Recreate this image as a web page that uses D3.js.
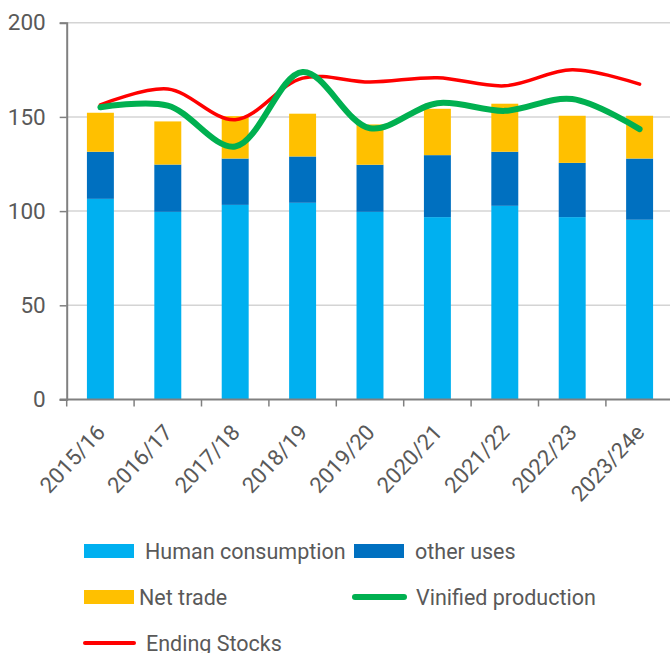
<!DOCTYPE html>
<html>
<head>
<meta charset="UTF-8">
<title>Wine balance</title>
<script src="https://cdn.jsdelivr.net/npm/d3@7"></script>
<style>
  body { margin: 0; background: #fff; }
  text { font-family: Roboto, "Open Sans", sans-serif; fill: #595959; }
</style>
</head>
<body>
<script>
// values
var years = ["2015/16", "2016/17", "2017/18", "2018/19", "2019/20", "2020/21", "2021/22", "2022/23", "2023/24e"];
var humanConsumption = [106.5, 99.6, 103.3, 104.4, 99.6, 96.8, 102.8, 96.8, 95.4];
var otherUses = [25.0, 25.1, 24.6, 24.6, 25.0, 32.9, 28.7, 28.8, 32.5];
var netTrade = [20.7, 22.9, 22.5, 22.7, 21.4, 24.6, 25.5, 25.0, 22.7];
var vinifiedProduction = [155.1, 156.0, 134.3, 173.8, 144.0, 157.3, 153.2, 159.5, 143.5];
var endingStocks = [156.4, 164.8, 148.5, 170.6, 168.5, 170.8, 166.5, 175.0, 167.4];
var yTicks = [0, 50, 100, 150, 200];

var width = 670, height = 653;
// note: "top" is reserved on window, so use plot* names
var plotLeft = 66.7, plotRight = 673.3, plotTop = 22.7, plotBottom = 399.5;

var svg = d3.select("body").append("svg")
    .attr("width", width)
    .attr("height", height);

var x = d3.scaleBand().domain(years).range([plotLeft, plotRight]).paddingInner(0.6).paddingOuter(0.3);
var y = d3.scaleLinear().domain([0, 200]).range([plotBottom, plotTop]);

// gridlines
svg.append("g").selectAll("line").data(yTicks.filter(function(d) { return d > 0; }))
    .enter().append("line")
    .attr("x1", plotLeft).attr("x2", width)
    .attr("y1", function(d) { return y(d); }).attr("y2", function(d) { return y(d); })
    .attr("stroke", "#d4d4d4").attr("stroke-width", 1.5);

// stacked bars
var rows = years.map(function(yr, i) {
    return { year: yr, human: humanConsumption[i], other: otherUses[i], net: netTrade[i] };
});
var keys = ["human", "other", "net"];
var colors = { human: "#00B0F0", other: "#0070C0", net: "#FFC000" };
var stacked = d3.stack().keys(keys)(rows);

svg.append("g").selectAll("g").data(stacked)
    .enter().append("g")
    .attr("fill", function(d) { return colors[d.key]; })
    .selectAll("rect").data(function(d) { return d; })
    .enter().append("rect")
    .attr("x", function(d) { return x(d.data.year); })
    .attr("width", x.bandwidth())
    .attr("y", function(d) { return y(d[1]); })
    .attr("height", function(d) { return y(d[0]) - y(d[1]); });

// axes
var yAxis = svg.append("g")
    .attr("transform", "translate(" + plotLeft + ",0)")
    .call(d3.axisLeft(y).tickValues(yTicks).tickSize(7).tickPadding(14));
yAxis.select(".domain").attr("stroke", "#808080").attr("stroke-width", 2);
yAxis.selectAll(".tick line").attr("stroke", "#808080").attr("stroke-width", 1.5);
yAxis.selectAll(".tick text")
    .style("font-size", "22.5px")
    .attr("fill", "#595959")
    .style("font-family", "Roboto, sans-serif");

var xAxisG = svg.append("g");
xAxisG.append("line")
    .attr("x1", plotLeft - 7).attr("x2", width)
    .attr("y1", plotBottom).attr("y2", plotBottom)
    .attr("stroke", "#808080").attr("stroke-width", 2);
var step = x.step();
xAxisG.selectAll(".xtick").data(d3.range(years.length + 1))
    .enter().append("line")
    .attr("x1", function(i) { return plotLeft + i * step; })
    .attr("x2", function(i) { return plotLeft + i * step; })
    .attr("y1", plotBottom).attr("y2", plotBottom + 7)
    .attr("stroke", "#808080").attr("stroke-width", 1.5);
xAxisG.selectAll(".xlabel").data(years)
    .enter().append("text")
    .attr("text-anchor", "end")
    .attr("transform", function(d) {
        return "translate(" + (x(d) + x.bandwidth() / 2 + 6) + "," + (plotBottom + 34) + ") rotate(-47)";
    })
    .style("font-size", "22px")
    .text(function(d) { return d; });

// lines
var cx = function(i) { return x(years[i]) + x.bandwidth() / 2; };
var line = d3.line()
    .x(function(d, i) { return cx(i); })
    .y(function(d) { return y(d); })
    .curve(d3.curveCatmullRom.alpha(0.5));

svg.append("path").datum(endingStocks)
    .attr("d", line)
    .attr("fill", "none")
    .attr("stroke", "#FF0000")
    .attr("stroke-width", 3.5)
    .attr("stroke-linecap", "round");

svg.append("path").datum(vinifiedProduction)
    .attr("d", line)
    .attr("fill", "none")
    .attr("stroke", "#00B050")
    .attr("stroke-width", 6)
    .attr("stroke-linecap", "round");

// legend
var legend = svg.append("g").style("font-size", "21.5px");
var legendItems = [
    { name: "Human consumption", type: "rect", color: colors.human, x: 84, y: 551, tx: 145 },
    { name: "other uses", type: "rect", color: colors.other, x: 354, y: 551, tx: 415 },
    { name: "Net trade", type: "rect", color: colors.net, x: 84, y: 597, tx: 139 },
    { name: "Vinified production", type: "line", color: "#00B050", w: 6, x: 354, y: 597, tx: 416 },
    { name: "Ending Stocks", type: "line", color: "#FF0000", w: 4, x: 84, y: 643, tx: 146 }
];
legendItems.forEach(function(it) {
    if (it.type === "rect") {
        legend.append("rect")
            .attr("x", it.x).attr("y", it.y - 7)
            .attr("width", 50).attr("height", 14)
            .attr("fill", it.color);
    } else {
        legend.append("line")
            .attr("x1", it.x + 1).attr("x2", it.x + 50)
            .attr("y1", it.y).attr("y2", it.y)
            .attr("stroke", it.color).attr("stroke-width", it.w)
            .attr("stroke-linecap", "round");
    }
    legend.append("text")
        .attr("x", it.tx).attr("y", it.y + 8)
        .text(it.name);
});
</script>
</body>
</html>
